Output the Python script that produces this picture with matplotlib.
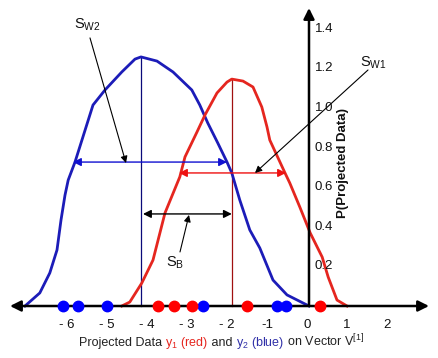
import matplotlib

matplotlib.use("Agg")
import matplotlib.pyplot as plt
from matplotlib.offsetbox import AnnotationBbox, HPacker, TextArea

plt.rcParams["font.family"] = ["Liberation Sans", "DejaVu Sans"]
plt.rcParams["mathtext.fontset"] = "custom"
plt.rcParams["mathtext.rm"] = "Liberation Sans"

# density curves
blue_x = [-7.10, -6.73, -6.48, -6.30, -6.20, -6.10, -6.02, -5.85, -5.40, -5.10, -4.68, -4.35,
          -4.20, -3.80, -3.40, -2.93, -2.73, -2.53, -2.28, -2.05, -1.93, -1.73, -1.48, -1.23,
          -0.90, -0.55, 0.00]
blue_y = [0.0, 0.066, 0.167, 0.283, 0.434, 0.560, 0.636, 0.727, 1.015, 1.091, 1.182, 1.247,
          1.258, 1.237, 1.182, 1.091, 1.015, 0.924, 0.823, 0.727, 0.672, 0.535, 0.384, 0.293,
          0.131, 0.056, 0.0]
red_x = [-4.68, -4.48, -4.18, -3.90, -3.60, -3.23, -3.10, -2.80, -2.60, -2.30, -2.05, -1.93,
         -1.65, -1.40, -1.18, -1.05, -0.98, -0.60, -0.48, -0.23, 0.03, 0.33, 0.48, 0.70, 0.95]
red_y = [0.0, 0.02, 0.116, 0.232, 0.47, 0.652, 0.753, 0.879, 0.965, 1.076, 1.131, 1.146,
         1.136, 1.106, 1.005, 0.904, 0.838, 0.672, 0.621, 0.50, 0.369, 0.247, 0.146, 0.030, 0.0]

# projected samples on the line
blue_pts = [-6.15, -5.78, -5.05, -2.65, -0.80, -0.58]
red_pts = [-3.78, -3.38, -2.93, -1.55, 0.28]

blue_mean, blue_peak = -4.2, 1.258
red_mean, red_peak = -1.925, 1.146
sw2_span = (-5.9, -2.05, 0.727)
sw1_span = (-3.25, -0.575, 0.672)
sb_span = (-4.15, -1.93, 0.465)

x_ticks = [-6, -5, -4, -3, -2, -1, 0, 1, 2]
x_labels = ["- 6", "- 5", "- 4", "- 3", "- 2", "-1", "0", "1", "2"]
y_ticks = [0.2, 0.4, 0.6, 0.8, 1.0, 1.2, 1.4]

BLUE = "#1c1cb8"
RED = "#e5261f"
NAVY = "#0a0a7a"
DARKRED = "#a01010"

fig = plt.figure(figsize=(4.39, 3.58), dpi=100)
ax = fig.add_axes([0, 0, 1, 1])
ax.set_xlim(-7.725, 3.25)
ax.set_ylim(-0.2626, 1.5455)
ax.axis("off")

# axes with arrow heads
ax.annotate("", xy=(-7.475, 0), xytext=(3.0, 0),
            arrowprops=dict(arrowstyle="<|-|>", color="black", lw=1.8, mutation_scale=16,
                            shrinkA=0, shrinkB=0))
ax.annotate("", xy=(0, 1.505), xytext=(0, 0),
            arrowprops=dict(arrowstyle="-|>", color="black", lw=1.8, mutation_scale=16,
                            shrinkA=0, shrinkB=0))

ax.plot([blue_mean, blue_mean], [0, blue_peak], color=NAVY, lw=0.9)
ax.plot([red_mean, red_mean], [0, red_peak], color=DARKRED, lw=0.9)

ax.plot(blue_x, blue_y, color=BLUE, lw=2.0, solid_joinstyle="round")
ax.plot(red_x, red_y, color=RED, lw=2.0, solid_joinstyle="round")

for (x0, x1, y), c in [(sw2_span, "#1010d0"), (sw1_span, "#ee1010"), (sb_span, "black")]:
    ax.annotate("", xy=(x0, y), xytext=(x1, y),
                arrowprops=dict(arrowstyle="<|-|>", color=c, lw=1.0, mutation_scale=12,
                                shrinkA=0, shrinkB=0))

ax.plot(blue_pts, [0] * len(blue_pts), "o", color="#0000ff", ms=7.5, zorder=5)
ax.plot(red_pts, [0] * len(red_pts), "o", color="#ff0000", ms=7.5, zorder=5)

# labelled pointers
pointers = [
    ("S$_{\\mathregular{W2}}$", (-5.55, 1.42), (-5.475, 1.354), (-4.575, 0.722)),
    ("S$_{\\mathregular{W1}}$", (1.6, 1.23), (1.475, 1.192), (-1.35, 0.672)),
    ("S$_{\\mathregular{B}}$", (-3.35, 0.22), (-3.225, 0.273), (-3.0, 0.46)),
]
for label, txt_xy, start, end in pointers:
    ax.text(*txt_xy, label, fontsize=10.5, ha="center", va="center", color="#111111")
    ax.annotate("", xy=end, xytext=start,
                arrowprops=dict(arrowstyle="-|>", color="black", lw=0.8, mutation_scale=10,
                                shrinkA=0, shrinkB=0))

for xt, lab in zip(x_ticks, x_labels):
    ax.text(xt - 0.05, -0.095, lab, fontsize=9.5, ha="center", va="center", color="#111111")
for yt in y_ticks:
    ax.text(0.15, yt, f"{yt:.1f}", fontsize=9.5, ha="left", va="center", color="#111111")

ax.text(0.85, 0.72, "P(Projected Data)", fontsize=9.5, fontweight="bold", rotation=90,
        ha="center", va="center", color="#111111")

parts = [
    ("Projected Data ", "#222222"),
    ("y$_\\mathregular{1}$ (red)", RED),
    (" and ", "#222222"),
    ("y$_\\mathregular{2}$ (blue)", "#3030a8"),
    (" on Vector V$^{\\mathregular{[1]}}$", "#222222"),
]
boxes = [TextArea(t, textprops=dict(color=c, fontsize=9)) for t, c in parts]
pack = HPacker(children=boxes, align="baseline", pad=0, sep=0)
ab = AnnotationBbox(pack, (-2.19, -0.18), frameon=False, box_alignment=(0.5, 0.5))
ax.add_artist(ab)

fig.savefig("out.png", dpi=100)
